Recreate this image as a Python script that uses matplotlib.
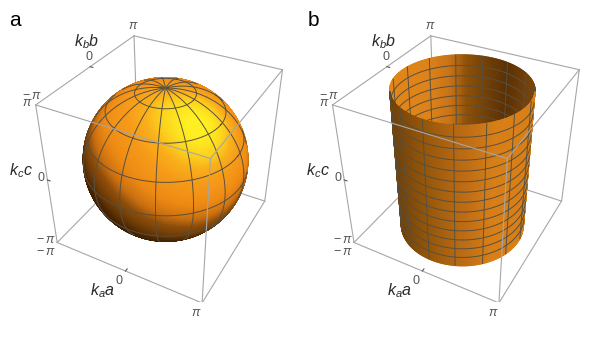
import numpy as np
import matplotlib
matplotlib.use('Agg')
import matplotlib.pyplot as plt
from matplotlib.colors import LinearSegmentedColormap

plt.rcParams['font.family'] = ['Liberation Sans', 'DejaVu Sans']
plt.rcParams['mathtext.fontset'] = 'custom'
plt.rcParams['mathtext.it'] = 'Liberation Sans:italic'
plt.rcParams['mathtext.rm'] = 'Liberation Sans'

W, H = 593, 337
PI = np.pi

# surfaces
sphere_radius = 3.08
sphere_polar_deg = [20.5, 44, 68, 92, 116, 140, 164]
mesh_meridians = 15
mesh_phase_deg = 4.0
cylinder_radius = 2.5
cylinder_rings = 14

# axis labels, as (text, x px, y px) within a panel
tick_labels = [('$\\pi$', 133, 26), ('0', 89, 57), ('$-\\,\\pi$', 32, 96), ('$\\pi$', 27, 103),
               ('0', 41, 178), ('$-\\,\\pi$', 46, 240), ('$-\\,\\pi$', 46, 252),
               ('0', 119, 281), ('$\\pi$', 196, 313)]
axis_labels = [('$k_b b$', 87, 42), ('$k_c c$', 21, 171), ('$k_a a$', 103, 291)]

# camera fitted to the box corners
elev, azim, roll, focal = 36.04, -61.61, 0.0, 0.375
box_cx, box_cy, box_size = 161.75, 163.2, 278.45
aspect = (1, 0.994, 0.9925)
panel_dx = 296.8

MESH = '#57503f'
EDGE = '#a6a6a6'

sphere_ramp = LinearSegmentedColormap.from_list('sphere', [
    (0.00, '#2a1300'), (0.35, '#4a2602'), (0.60, '#8f4f0b'), (0.68, '#cb7011'),
    (0.78, '#ee8a14'), (0.89, '#f79b19'), (0.94, '#fab01c'), (0.975, '#fdd71e'), (1.00, '#fff023')])
inner_ramp = LinearSegmentedColormap.from_list('inner', [
    (0.00, '#7a4408'), (0.15, '#5a3004'), (0.45, '#8c5009'), (0.60, '#c87318'), (0.75, '#dc8219'), (1.00, '#e28619')])
outer_ramp = LinearSegmentedColormap.from_list('outer', [
    (0.00, '#6e3e06'), (0.20, '#8e5209'), (0.50, '#bc6c14'), (0.70, '#d87f18'), (1.00, '#d87f18')])


def cam_dirs():
    e, a = np.radians(elev), np.radians(azim)
    back = np.array([np.cos(e)*np.cos(a), np.cos(e)*np.sin(a), np.sin(e)])
    right = np.array([-np.sin(a), np.cos(a), 0])
    up = np.cross(back, right)
    return right, up, back


def to_cam(nx, ny, nz):
    right, up, back = cam_dirs()
    return (nx*right[0] + ny*right[1] + nz*right[2],
            nx*up[0] + ny*up[1] + nz*up[2],
            nx*back[0] + ny*back[1] + nz*back[2])


def shade_sphere(nx, ny, nz):
    cx, cy, cz = to_cam(nx, ny, nz)
    main = 0.33*cx + 0.36*cy + 0.873*cz
    side = np.clip(-0.75*cx + 0.6*cy + 0.28*cz, 0, None)**4
    v = main + 0.25*side
    return sphere_ramp(np.clip((v + 0.6)/1.6, 0, 1))


def setup(dx):
    ax = fig.add_axes([(box_cx + dx - box_size/2)/W, 1 - (box_cy + box_size/2)/H,
                       box_size/W, box_size/H], projection='3d', computed_zorder=False)
    ax.set_xlim(-PI, PI, view_margin=0)
    ax.set_ylim(-PI, PI, view_margin=0)
    ax.set_zlim(-PI, PI, view_margin=0)
    ax.view_init(elev, azim, roll)
    ax.set_proj_type('persp', focal_length=focal)
    ax.set_box_aspect(aspect)
    ax.set_axis_off()
    ax.patch.set_alpha(0)
    ax.get_proj()
    return ax


def edge(ax, a, b, zorder):
    ax.plot([a[0], b[0]], [a[1], b[1]], [a[2], b[2]], color=EDGE, lw=0.8, zorder=zorder)


def draw_box(ax):
    p = PI
    back = [((-p, p, p), (-p, p, -p)), ((-p, p, -p), (-p, -p, -p)), ((-p, p, -p), (p, p, -p)),
            ((p, p, p), (p, p, -p)), ((-p, p, p), (p, p, p)), ((-p, -p, p), (-p, p, p)),
            ((-p, -p, -p), (-p, -p, p)), ((-p, -p, -p), (p, -p, -p)), ((p, -p, -p), (p, p, -p))]
    front = [((p, p, p), (p, -p, p)), ((p, -p, p), (-p, -p, p)), ((p, -p, p), (p, -p, -p))]
    for a, b in back:
        edge(ax, a, b, 1)
    for a, b in front:
        edge(ax, a, b, 9)
    # zero ticks
    t = 0.12
    for a, b in [((0, -p, -p), (0, -p + t, -p)), ((-p, 0, p), (-p + t, 0, p)), ((-p, -p, 0), (-p + t, -p, 0))]:
        ax.plot(*zip(a, b), color='#555555', lw=0.8, zorder=9)


def draw_sphere(ax):
    eye = ax._get_camera_loc()
    th, ph = np.meshgrid(np.radians(np.linspace(0, 180, 121)), np.radians(np.linspace(0, 360, 241)), indexing='ij')
    nx, ny, nz = np.sin(th)*np.cos(ph), np.sin(th)*np.sin(ph), np.cos(th)
    ax.plot_surface(sphere_radius*nx, sphere_radius*ny, sphere_radius*nz, facecolors=shade_sphere(nx, ny, nz),
                    rstride=1, cstride=1, shade=False, linewidth=0.8, antialiased=True, zorder=3)

    def mesh(th_l, ph_l):
        x, y, z = sphere_radius*np.sin(th_l)*np.cos(ph_l), sphere_radius*np.sin(th_l)*np.sin(ph_l), sphere_radius*np.cos(th_l)
        vis = (x*(eye[0]-x) + y*(eye[1]-y) + z*(eye[2]-z)) > 0
        ax.plot(np.where(vis, x, np.nan), np.where(vis, y, np.nan), np.where(vis, z, np.nan),
                color=MESH, lw=0.7, zorder=4)

    s = np.radians(np.linspace(0, 360, 361))
    for d in sphere_polar_deg:
        mesh(np.full(s.shape, np.radians(d)), s)
    u = np.radians(np.linspace(1, 179, 200))
    for k in range(mesh_meridians):
        mesh(u, np.full(u.shape, 2*PI*k/mesh_meridians + np.radians(mesh_phase_deg)))


def cyl_part(ax, p0, p1, sign, ramp, zorder):
    ph = np.linspace(p0, p1, 140)
    zz = np.linspace(-PI, PI, 2)
    P, Z = np.meshgrid(ph, zz)
    nx, ny = np.cos(P), np.sin(P)
    sx = to_cam(sign*nx, sign*ny, 0*nx)[0]
    col = ramp(np.clip((sx + 1)/2, 0, 1))
    ax.plot_surface(cylinder_radius*nx, cylinder_radius*ny, Z, facecolors=col,
                    rstride=1, cstride=1, shade=False, linewidth=0.8, antialiased=True, zorder=zorder)
    # rings and verticals on this part
    for c in np.linspace(-PI, PI, cylinder_rings + 1)[1:-1]:
        ax.plot(cylinder_radius*np.cos(ph), cylinder_radius*np.sin(ph), np.full(ph.shape, c),
                color=MESH, lw=0.7, zorder=zorder + 1)
    for k in range(mesh_meridians):
        a = (2*PI*k/mesh_meridians + np.radians(mesh_phase_deg) - p0) % (2*PI) + p0
        if a <= p1:
            ax.plot([cylinder_radius*np.cos(a)]*2, [cylinder_radius*np.sin(a)]*2, [-PI, PI],
                    color=MESH, lw=0.7, zorder=zorder + 1)


def draw_cylinder(ax):
    eye = ax._get_camera_loc()
    pe = np.arctan2(eye[1], eye[0])
    half = np.arccos(cylinder_radius/np.hypot(eye[0], eye[1]))
    cyl_part(ax, pe + half, pe + 2*PI - half, -1, inner_ramp, 3)
    cyl_part(ax, pe - half, pe + half, 1, outer_ramp, 5)


def put_text(txt, x, y, **kw):
    fig.text(x/W, 1 - y/H, txt, ha='center', va='center', **kw)


fig = plt.figure(figsize=(W/100, H/100), dpi=100, facecolor='white')

for dx, draw in [(0, draw_sphere), (panel_dx, draw_cylinder)]:
    ax = setup(dx)
    draw_box(ax)
    draw(ax)
    for txt, x, y in tick_labels:
        put_text(txt, x + dx, y, fontsize=9, color='#555555')
    for txt, x, y in axis_labels:
        put_text(txt, x + dx, y, fontsize=11.5, color='#2a2a2a')

put_text('a', 15, 21, fontsize=15, color='black')
put_text('b', 313, 20, fontsize=15, color='black')

fig.savefig('out.png', dpi=100)
